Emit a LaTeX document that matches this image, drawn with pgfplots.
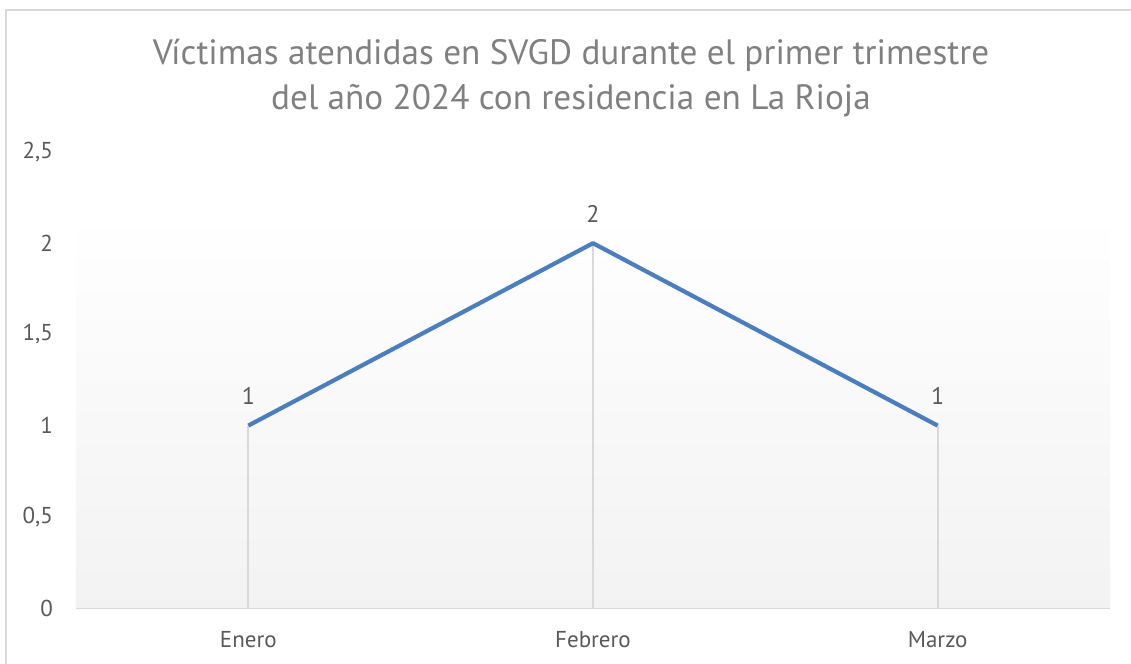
\documentclass[border=0pt]{standalone}
\usepackage{fontspec}
\setmainfont{PT Sans}
\usepackage{pgfplots}
\pgfplotsset{compat=1.18}
\definecolor{titlegray}{HTML}{808080}
\definecolor{labgray}{HTML}{595959}
\definecolor{gridgray}{HTML}{D9D9D9}
\definecolor{lineblue}{HTML}{4A7EBE}
\begin{document}
\begin{tikzpicture}
\path[use as bounding box] (0,0) rectangle (565.5pt,332pt);
\draw[gridgray, line width=1pt] (3pt,0) -- (3pt,327pt) -- (565.5pt,327pt);
\node[align=center, font=\fontsize{17.6}{22.5}\selectfont, text=titlegray, anchor=base] at (285.5pt,277pt)
  {Víctimas atendidas en SVGD durante el primer trimestre\\del año 2024 con residencia en La Rioja};
\begin{axis}[
  at={(38pt,28pt)}, anchor=south west,
  scale only axis, width=517pt, height=228pt,
  xmin=-0.5, xmax=2.5, ymin=0, ymax=2.5,
  xtick={0,1,2}, xticklabels={Enero,Febrero,Marzo},
  ytick={0,0.5,1,1.5,2,2.5},
  /pgf/number format/use comma,
  /pgf/number format/assume math mode=true,
  axis x line*=bottom, axis y line*=left,
  x axis line style={draw=gridgray, line width=1pt},
  y axis line style={draw=none},
  tick style={draw=none},
  ticklabel style={font=\fontsize{11.5}{13}\selectfont, text=labgray},
  yticklabel style={anchor=east, xshift=-8pt},
  xticklabel style={anchor=base, yshift=-20pt},
  clip=false,
]
\fill[top color=white, bottom color=black!5] (axis cs:-0.5,0) rectangle (axis cs:2.5,2.17);
\addplot[ycomb, gridgray, line width=0.9pt] coordinates {(0,1) (1,2) (2,1)};
\addplot[lineblue, line width=2.1pt, line join=round, mark=none,
  nodes near coords,
  every node near coord/.append style={anchor=base, yshift=10.5pt, text=labgray, font=\fontsize{12}{14}\selectfont}]
  coordinates {(0,1) (1,2) (2,1)};
\end{axis}
\end{tikzpicture}
\end{document}
